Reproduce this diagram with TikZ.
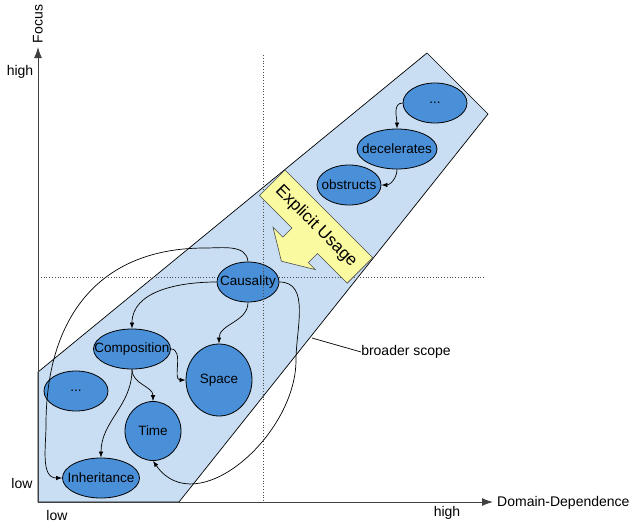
\documentclass[tikz,border=0pt]{standalone}
\usepackage{fontspec}
\setmainfont{Liberation Sans}
\usetikzlibrary{shapes.geometric,arrows.meta}
\definecolor{nodeblue}{RGB}{74,144,217}
\definecolor{regionblue}{RGB}{201,222,242}
\definecolor{usageyellow}{RGB}{250,250,160}
\tikzset{
  ell/.style={ellipse, draw=black, line width=0.8pt, fill=nodeblue, inner sep=0pt,
     font=\fontsize{13.5}{15}\selectfont},
  edge/.style={-{Latex[length=6pt,width=4.5pt]}, line width=0.7pt, black},
  axis/.style={-{Latex[length=11pt,width=8pt]}, line width=1pt, black!75},
  lbl/.style={font=\fontsize{14}{16}\selectfont, inner sep=0pt},
  guide/.style={dotted, line width=0.8pt, black!70}
}
\newcommand{\ztext}[1]{\makebox[0pt][c]{#1}}
\begin{document}
\begin{tikzpicture}[x=1pt,y=-1pt]
\useasboundingbox (0,0) rectangle (638,525);
% region
\draw[fill=regionblue, line width=0.7pt] (38,372) -- (427,53) -- (488,114) -- (179,502) -- (38,502) -- cycle;
% horizontal guide
\coordinate (hg1) at (38,277);
\coordinate (hg2) at (486,277);
\draw[guide] (hg1) -- (hg2);
% axes
\coordinate (origin) at (38,502);
\coordinate (ytip) at (38,47);
\coordinate (xtip) at (493,502);
\draw[axis] (origin) -- (ytip);
\draw[axis] (origin) -- (xtip);
% nodes
\node[ell, minimum width=64pt, minimum height=40pt] (dotsTop) at (435,103) {\ztext{...}};
\node[ell, minimum width=80pt, minimum height=40pt] (decel) at (397,149) {\ztext{decelerates}};
\node[ell, minimum width=64pt, minimum height=40pt] (obstr) at (349,185) {\ztext{obstructs}};
\node[ell, minimum width=62pt, minimum height=40pt] (caus) at (248,282) {\ztext{Causality}};
\node[ell, minimum width=77pt, minimum height=40pt] (comp) at (132,349) {\ztext{Composition}};
\node[ell, minimum width=66pt, minimum height=72pt] (space) at (219,380) {\ztext{Space}};
\node[ell, minimum width=64pt, minimum height=40pt] (dotsLow) at (76,391) {\ztext{...}};
\node[ell, minimum width=56pt, minimum height=59pt] (time) at (153,431) {\ztext{Time}};
\node[ell, minimum width=77pt, minimum height=40pt] (inh) at (101,478) {\ztext{Inheritance}};
% edges
\draw[edge] (dotsTop.west) to[out=180,in=90] (decel.north);
\draw[edge] (decel.south) to[out=-90,in=0] (obstr.east);
\draw[edge] (caus.west) to[out=180,in=90] (comp.north);
\draw[edge] (caus.south) to[out=-90,in=90] (space.north);
\draw[edge] (comp.east) to[out=0,in=180] (space.west);
\draw[edge] (comp.south) to[out=-90,in=90] (time.north);
\draw[edge] (comp.south) to[out=-90,in=90] (inh.north);
\coordinate (loopA) at (205,248);
\coordinate (loopB) at (46,425);
\draw[edge] (caus.north) to[out=95,in=0] (loopA) to[out=180,in=90,looseness=1.15] (loopB) to[out=-90,in=180] (inh.west);
\coordinate (loopC) at (296,360);
\draw[edge] (caus.east) to[out=0,in=90] (loopC) to[out=-90,in=-55,looseness=1.1] (time.south);
% vertical guide
\coordinate (vg1) at (263,55);
\coordinate (vg2) at (263,502);
\draw[guide] (vg1) -- (vg2);
% explicit usage arrow
\draw[fill=usageyellow, draw=black!70, line width=0.6pt]
  (285,170) -- (372.7,257.7) -- (347.2,283.2) -- (317.5,253.5) -- (308.4,262.6)
  -- (315.4,269.6) -- (281.4,261.2) -- (273,227.2) -- (282.9,237.1) -- (292,228)
  -- (259.5,195.5) -- cycle;
\node[rotate=-45, font=\fontsize{17}{19}\selectfont, inner sep=0pt] (usage) at (316,226.5) {Explicit Usage};
% labels
\node[lbl, rotate=90] (focus) at (38,24) {Focus};
\node[lbl] (yhigh) at (20,72) {high};
\node[lbl] (ylow) at (22,483) {low};
\node[lbl] (xlow) at (57,515) {low};
\node[lbl] (xhigh) at (447,513) {high};
\node[lbl, anchor=west] (dd) at (497,503) {Domain-Dependence};
\node[lbl] (scope) at (406,352) {broader scope};
\coordinate (scopeEdge) at (312,338);
\draw[line width=0.7pt] (scopeEdge) -- (scope.west);
\end{tikzpicture}
\end{document}
